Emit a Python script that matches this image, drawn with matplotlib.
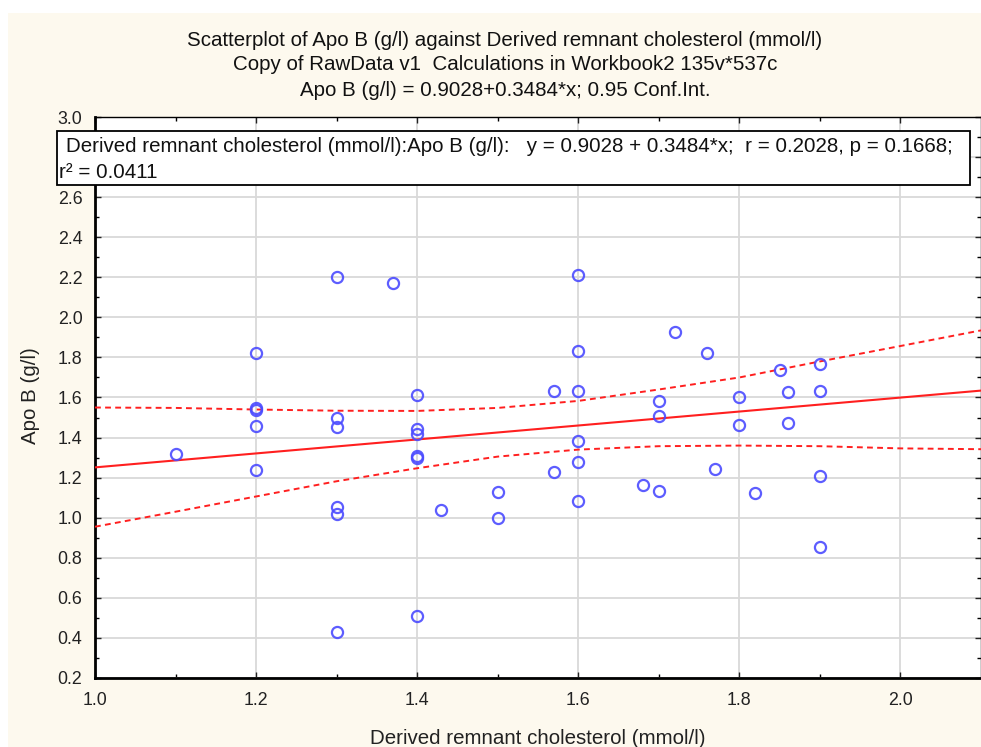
import numpy as np
import matplotlib
matplotlib.use("Agg")
import matplotlib.pyplot as plt
from matplotlib.patches import Rectangle

# derived remnant cholesterol (mmol/l) vs Apo B (g/l)
remnant = [1.10,
           1.20, 1.20, 1.20, 1.20, 1.20,
           1.30, 1.30, 1.30, 1.30, 1.30, 1.30,
           1.37,
           1.40, 1.40, 1.40, 1.40, 1.40, 1.40,
           1.43,
           1.50, 1.50,
           1.57, 1.57,
           1.60, 1.60, 1.60, 1.60, 1.60, 1.60,
           1.68,
           1.70, 1.70, 1.70,
           1.72, 1.76, 1.77,
           1.80, 1.80,
           1.82, 1.85,
           1.86, 1.86,
           1.90, 1.90, 1.90, 1.90]
apob = [1.32,
        1.82, 1.55, 1.54, 1.46, 1.24,
        2.20, 1.50, 1.455, 1.055, 1.02, 0.43,
        2.17,
        1.61, 1.445, 1.42, 1.31, 1.30, 0.51,
        1.04,
        1.13, 1.00,
        1.63, 1.227,
        2.21, 1.83, 1.63, 1.383, 1.28, 1.084,
        1.162,
        1.584, 1.507, 1.132,
        1.925, 1.82, 1.242,
        1.60, 1.463,
        1.123, 1.735,
        1.625, 1.472,
        1.766, 1.632, 1.21, 0.855]

# fitted line: Apo B = 0.9028 + 0.3484*x
intercept, slope = 0.9028, 0.3484

# 0.95 confidence band as drawn
band_x = [1.0, 1.1, 1.2, 1.3, 1.4, 1.5, 1.6, 1.7, 1.8, 1.9, 2.0, 2.1]
band_hi = [1.550, 1.548, 1.540, 1.534, 1.533, 1.548, 1.583, 1.640, 1.700, 1.780, 1.857, 1.935]
band_lo = [0.955, 1.030, 1.106, 1.182, 1.247, 1.305, 1.340, 1.357, 1.360, 1.357, 1.346, 1.342]

xticks = [1.0, 1.2, 1.4, 1.6, 1.8, 2.0]
yticks = [0.2, 0.4, 0.6, 0.8, 1.0, 1.2, 1.4, 1.6, 1.8, 2.0, 2.2, 2.4, 2.6, 2.8, 3.0]

title_lines = ["Scatterplot of Apo B (g/l) against Derived remnant cholesterol (mmol/l)",
               "Copy of RawData v1  Calculations in Workbook2 135v*537c",
               "Apo B (g/l) = 0.9028+0.3484*x; 0.95 Conf.Int."]
box_line1 = "Derived remnant cholesterol (mmol/l):Apo B (g/l):   y = 0.9028 + 0.3484*x;  r = 0.2028, p = 0.1668;"
box_line2 = "r\u00b2 = 0.0411"

plt.rcParams["font.family"] = ["Liberation Sans", "DejaVu Sans"]
W, H = 981, 747
FS = 14.8
fig = plt.figure(figsize=(W/100, H/100), dpi=100, facecolor="white")
cream = "#fdf9ee"
fig.add_artist(Rectangle((8/W, 0), 1 - 8/W, 1 - 13/H, transform=fig.transFigure,
                         facecolor=cream, edgecolor="none", zorder=-10))

ax = fig.add_axes([95/W, 1 - 678/H, (W - 95)/W, (678 - 117)/H])
ax.set_facecolor("white")

ax.grid(True, color="#d9d9d9", lw=1.3, zorder=0)
ax.set_axisbelow(True)

xx = np.array([1.0, 2.1])
ax.plot(xx, intercept + slope*xx, color="#ff1f1f", lw=1.5, zorder=3)
ax.plot(band_x, band_hi, color="#ff1f1f", lw=1.4, ls=(0, (3, 2.2)), zorder=3)
ax.plot(band_x, band_lo, color="#ff1f1f", lw=1.4, ls=(0, (3, 2.2)), zorder=3)
ax.plot(remnant, apob, "o", mfc="none", mec="#4b4bff", ms=8, mew=1.6, alpha=0.9, zorder=4)

ax.set_xlim(1.0, 2.1)
ax.set_ylim(0.2, 3.0)
ax.set_xticks(xticks)
ax.set_xticklabels([f"{t:.1f}" for t in xticks])
ax.set_yticks(yticks)
# the 2.8 label sits under the statistics box
ax.set_yticklabels(["" if abs(t - 2.8) < 1e-9 else f"{t:.1f}" for t in yticks])
ax.set_xticks(np.arange(1.1, 2.1, 0.2), minor=True)
ax.set_yticks(np.arange(0.3, 3.0, 0.2), minor=True)
ax.tick_params(which="both", direction="in", top=True, right=True, color="black")
ax.tick_params(which="major", length=4, width=1.0, labelsize=12.8, colors="#222222")
ax.tick_params(which="minor", length=3, width=1.0)
ax.tick_params(axis="x", pad=10)
ax.tick_params(axis="y", pad=9)
for s in ["left", "bottom"]:
    ax.spines[s].set_linewidth(2.0)
for s in ["top", "right"]:
    ax.spines[s].set_linewidth(1.0)

fig.text(30/W, 1 - 396/H, "Apo B (g/l)", rotation=90, ha="center", va="center",
         fontsize=FS, color="#222222")
fig.text(538/W, 1 - 738/H, "Derived remnant cholesterol (mmol/l)", ha="center",
         va="center", fontsize=FS, color="#222222")

for yy, line in zip([40, 65, 91], title_lines):
    fig.text(505/W, 1 - yy/H, line, ha="center", va="center", fontsize=FS, color="#111111")

# statistics box over the top of the plot
fig.add_artist(Rectangle((57/W, 1 - 185/H), (970 - 57)/W, (185 - 131)/H,
                         transform=fig.transFigure, facecolor="white",
                         edgecolor="black", lw=1.3, zorder=5))
fig.text(66/W, 1 - 147/H, box_line1, ha="left", va="center", fontsize=FS,
         color="#111111", zorder=6)
fig.text(59/W, 1 - 172/H, box_line2, ha="left", va="center", fontsize=FS,
         color="#111111", zorder=6)

fig.savefig("out.png", dpi=100, facecolor=fig.get_facecolor())
